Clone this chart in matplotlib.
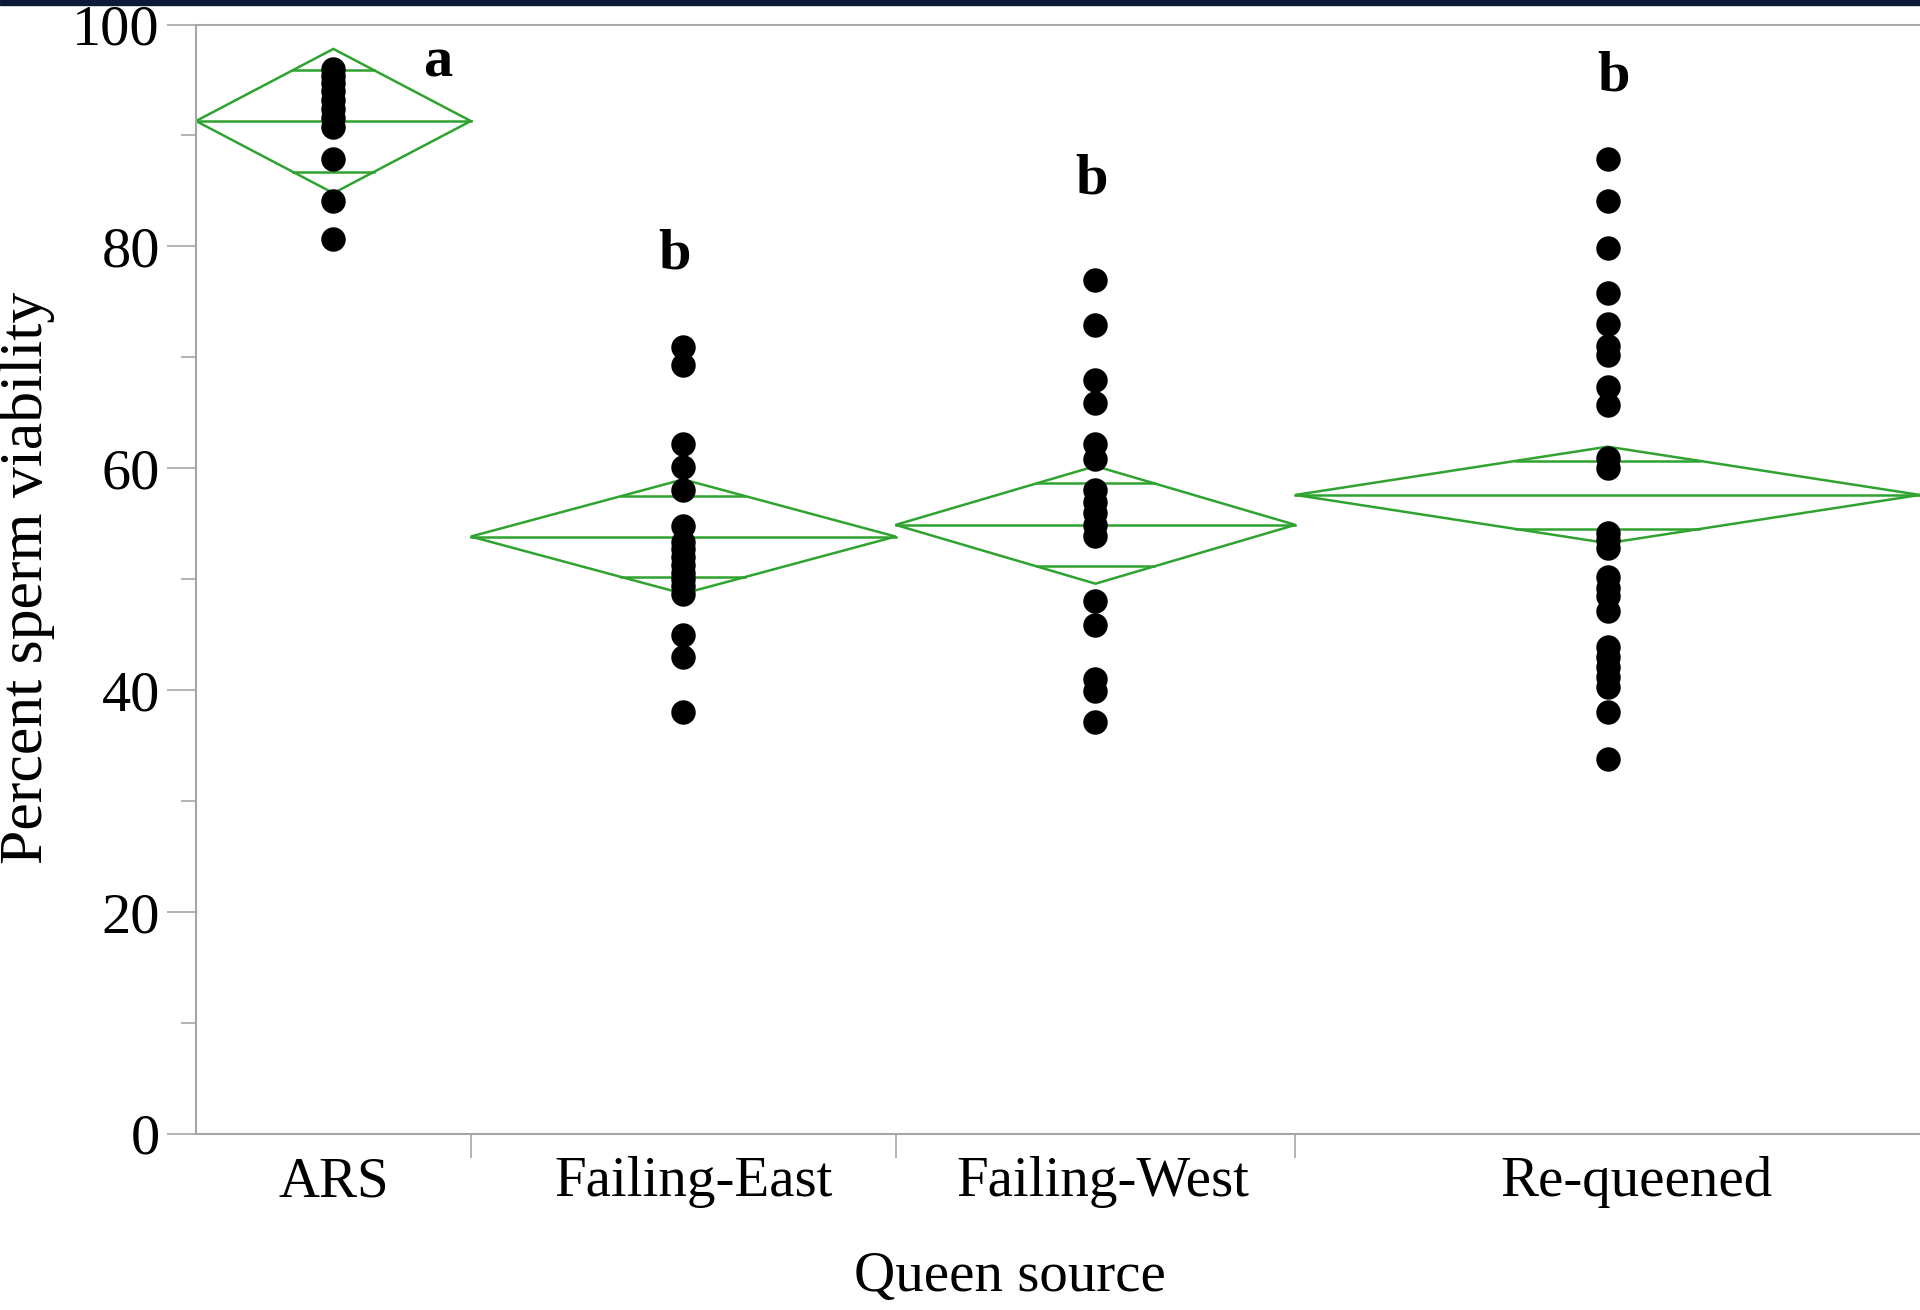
# === Libraries ===
import numpy as np
import matplotlib
matplotlib.use("Agg")
import matplotlib.pyplot as plt
from matplotlib.patches import Polygon, Rectangle
from matplotlib.transforms import ScaledTranslation

plt.rcParams['font.family'] = ['Liberation Serif', 'DejaVu Serif']

# === Data ===
groups = ['ARS', 'Failing-East', 'Failing-West', 'Re-queened']

ars = [96.0, 95.4, 94.7, 94.0, 93.2, 92.4, 91.6, 90.8, 87.9, 84.1, 80.7]
failing_east = [70.9, 69.3, 62.2, 60.1, 58.0, 54.8, 53.4, 52.7, 52.0, 51.3,
                50.6, 50.0, 49.4, 48.7, 45.0, 43.0, 38.0]
failing_west = [77.0, 72.9, 68.0, 65.9, 62.2, 60.8, 58.0, 57.0, 56.0, 54.9,
                53.9, 48.0, 45.9, 41.0, 39.9, 37.1]
requeened = [87.9, 84.1, 79.9, 75.8, 73.0, 71.0, 70.2, 67.3, 65.7, 60.9,
             60.0, 54.2, 53.5, 52.8, 50.2, 49.2, 48.5, 47.1, 43.9, 43.0,
             42.1, 41.2, 40.3, 38.0, 33.8]
values = [ars, failing_east, failing_west, requeened]

# means diamonds (group mean and 95% CI half width)
diamond_mean = [91.3, 53.85, 54.9, 57.6]
diamond_half = [6.5, 5.15, 5.3, 4.35]

# significance letters
letters = ['a', 'b', 'b', 'b']
letter_y = [96.6, 79.3, 86.0, 95.3]
letter_xfrac = [0.88, 0.48, 0.49, 0.51]

# === Figure ===
green = '#2fa32f'
gray = '#a6a6a6'

fig = plt.figure(figsize=(19.2, 13.1), dpi=100)
ax = fig.add_axes([196 / 1920, 1 - 1134 / 1310, 1 - 196 / 1920, (1134 - 24.5) / 1310])

# group widths proportional to sample size (JMP style)
n = np.array([len(v) for v in values])
edges = np.concatenate([[0], np.cumsum(n)])
centers = (edges[:-1] + edges[1:]) / 2

for i, vals in enumerate(values):
    x0, x1, xc = edges[i], edges[i + 1], centers[i]
    m, h = diamond_mean[i], diamond_half[i]
    diamond = Polygon([(x0, m), (xc, m + h), (x1, m), (xc, m - h)], closed=True,
                      fill=False, edgecolor=green, linewidth=1.8, zorder=2)
    ax.add_patch(diamond)
    ax.plot([x0, x1], [m, m], color=green, lw=1.8, zorder=2)
    # overlap marks
    d = h / np.sqrt(2)
    half_w = (x1 - x0) / 2 * (1 - 1 / np.sqrt(2))
    for yy in (m + d, m - d):
        ax.plot([xc - half_w, xc + half_w], [yy, yy], color=green, lw=1.8, zorder=2)
    ax.scatter(np.full(len(vals), xc), vals, s=310, color='black', zorder=3, linewidths=0)
    ax.text(x0 + letter_xfrac[i] * (x1 - x0), letter_y[i], letters[i],
            fontsize=42, fontweight='bold', ha='center', va='center')

ax.set_xlim(0, edges[-1])
ax.set_ylim(0, 100)

# y axis
ax.set_yticks(np.arange(0, 101, 20))
ax.set_yticks(np.arange(10, 100, 20), minor=True)
ax.tick_params(axis='y', which='major', direction='out', length=21, width=1.2,
               color=gray, labelsize=42, pad=5)
ax.tick_params(axis='y', which='minor', direction='out', length=11, width=1.2, color=gray)

# x axis: ticks at group boundaries, labels at group centres
ax.set_xticks(edges[1:-1])
ax.set_xticklabels([])
ax.set_xticks(centers, minor=True)
ax.set_xticklabels(groups, minor=True)
ax.tick_params(axis='x', which='major', direction='out', length=17, width=1.2, color=gray)
ax.tick_params(axis='x', which='minor', length=0, labelsize=41, pad=16)

# small horizontal nudges of the category labels, as in the original
label_shift = [0, 10, 7, 29]
for lab, dx in zip(ax.get_xticklabels(minor=True), label_shift):
    lab.set_transform(lab.get_transform() + ScaledTranslation(dx / 100, 0, fig.dpi_scale_trans))

for side in ['left', 'bottom', 'top']:
    ax.spines[side].set_color(gray)
    ax.spines[side].set_linewidth(1.5)
ax.spines['right'].set_visible(False)

fig.text(1010 / 1920, 1 - 1277 / 1310, 'Queen source', fontsize=41, ha='center', va='center')
fig.text(27 / 1920, 1 - 578 / 1310, 'Percent sperm viability', fontsize=44.5,
         rotation=90, ha='center', va='center')

# dark band along the top edge
fig.patches.append(Rectangle((0, 1 - 5 / 1310), 1, 5 / 1310, transform=fig.transFigure,
                             color='#0c1a3a', zorder=10))

fig.savefig('out.png', dpi=100)
